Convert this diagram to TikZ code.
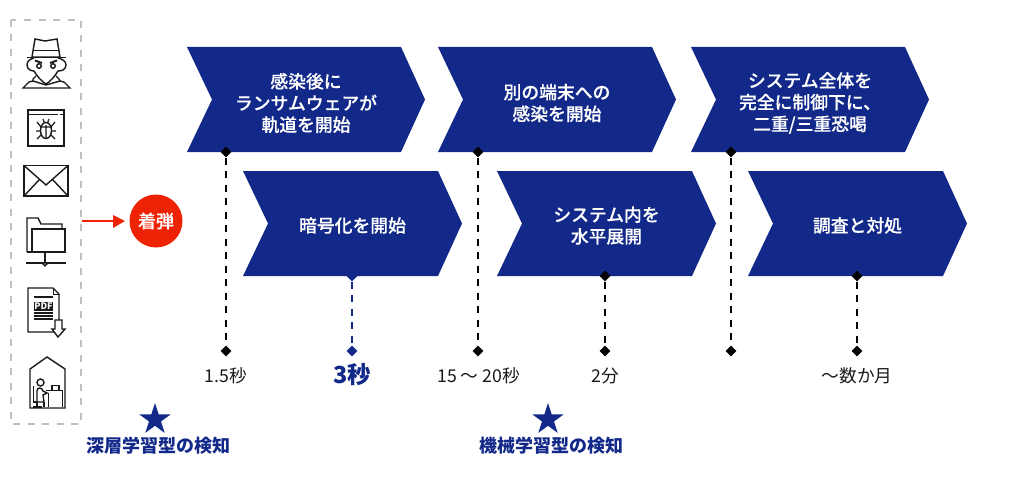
\documentclass[tikz,border=0pt]{standalone}
\usepackage{fontspec}
\setmainfont{Noto Sans CJK JP}
\newfontfamily\medfont[FakeBold=0.2]{Noto Sans CJK JP Medium}
\usetikzlibrary{shapes.geometric}
\definecolor{navy}{HTML}{12298A}
\definecolor{hitred}{HTML}{EE2205}
\definecolor{ink}{HTML}{1A1A1A}
\newcommand{\chev}[6]{%
  \fill[navy] (#2,#4) -- (#3,#4) -- ({#3+24},{(#4+#5)/2}) -- (#3,#5) -- (#2,#5) -- ({#2+25},{(#4+#5)/2}) -- cycle;
  \node[chevtext] (#1) at ({(#2+#3)/2+12},{(#4+#5)/2+(#4<100?3.5:2)}) {#6};}
\tikzset{
  x=1pt,y=-1pt,
  chevtext/.style={text=white,align=center,font=\fontsize{17.8}{21.7}\selectfont\medfont,inner sep=0pt},
  tick/.style={diamond,fill=black,minimum size=11pt,inner sep=0pt},
  tickblue/.style={tick,fill=navy},
  tline/.style={dash pattern=on 7pt off 6.5pt,line width=1.5pt,black},
  tlineblue/.style={tline,navy},
  timelabel/.style={font=\fontsize{17.7}{20}\selectfont,text=ink,inner sep=0pt},
  detlabel/.style={font=\fontsize{18}{20}\selectfont\bfseries,text=navy,inner sep=0pt},
  icon/.style={line width=1.4pt,draw=ink,line join=miter},
  starmark/.style={star,star points=5,star point ratio=2.62,fill=navy,minimum size=33pt,inner sep=0pt},
}
\begin{document}
\begin{tikzpicture}
\useasboundingbox (0,0) rectangle (1024,476);
% dashed frame
\draw[line width=1.6pt,draw=black!25,dash pattern=on 7pt off 7.5pt] (11,20) rectangle (81,424);
% chevrons top
\chev{c1}{187}{401}{47}{152}{感染後に\\ランサムウェアが\\軌道を開始}
\chev{c2}{438}{652}{47}{152}{別の端末への\\感染を開始}
\chev{c3}{691}{905}{47}{152}{システム全体を\\完全に制御下に、\\二重/三重恐喝}
% chevrons bottom
\chev{c4}{243}{438}{171}{276}{暗号化を開始}
\chev{c5}{497}{692}{171}{276}{システム内を\\水平展開}
\chev{c6}{748}{943}{171}{276}{調査と対処}
% timeline
\foreach \n/\x/\y in {a/226/152,b/478/152,c/731/152,e/605/276,f/857/276}{
  \node[tick] (\n t) at (\x,\y) {};
  \node[tick] (\n b) at (\x,351) {};
  \draw[tline] (\n t) -- (\n b);
}
\node[tickblue] (dt) at (352,276) {};
\node[tickblue] (db) at (352,351) {};
\draw[tlineblue] (dt) -- (db);
% labels
\node[timelabel] (l1) at (226,376) {1.5秒};
\node[font=\fontsize{23.5}{25}\selectfont\bfseries,text=navy,inner sep=0pt] (l2) at (352,374.5) {3秒};
\node[timelabel] (l3) at (478.5,376) {15 〜 20秒};
\node[timelabel] (l4) at (605,376) {2分};
\node[timelabel] (l5) at (857,376) {〜数か月};
% hit
\node[circle,fill=hitred,minimum size=53pt,inner sep=0pt,text=white,font=\fontsize{18}{20}\selectfont\medfont] (hit) at (156,221) {着弾};
\coordinate (src) at (82,221);
\draw[hitred,line width=1.4pt] (src) -- (113,221);
\fill[hitred] (113,215) -- (125,221) -- (113,228) -- cycle;
% stars
\node[starmark] (s1) at (155,419.5) {};
\node[starmark] (s2) at (548,419.5) {};
\node[detlabel] (d1) at (158,446) {深層学習型の検知};
\node[detlabel] (d2) at (551,446) {機械学習型の検知};
% spy icon
\draw[icon] (35,39) -- (45,41) -- (57,39) -- (60,57) -- (32,57) -- cycle;
\draw[icon] (33,50.5) -- (59,50.5);
\draw[icon] (27,57.5) -- (66,57.5);
\draw[icon] (34,58) .. controls (30,59) and (27,61) .. (27,65) .. controls (27,70) and (32,71) .. (34,71) .. controls (37,76) and (42,82) .. (46,84) .. controls (50,82) and (55,76) .. (58,71) .. controls (61,71) and (66,70) .. (66,65) .. controls (66,61) and (62,59) .. (58,58);
\draw[icon] (39,66) circle (2.3) (53,66) circle (2.3);
\draw[icon,line width=1.9pt] (35,60.5) -- (42,63) (57,60.5) -- (50,63);
\draw[icon] (36,76) -- (33,79) -- (33,81) -- (29,82) -- (23,88) -- (70,88) -- (64,82) -- (60,81) -- (59,79) -- (56,76);
\draw[icon] (33,81) -- (46,85) -- (60,81);
% bug window
\draw[icon] (28,110) rectangle (64,146);
\draw[icon] (28,114.5) -- (58,114.5) (60,114.5) -- (64,114.5);
\draw[icon] (46,130.5) ellipse (5.5 and 8);
\draw[icon,line width=1.2pt] (46,125) -- (46,138) (40.5,127) -- (51.5,127) (37,122) -- (41,127) (55,122) -- (51,127)
  (36,131) -- (41,131) (56,131) -- (51,131) (37,139) -- (41,135) (55,139) -- (51,135) (43,119) -- (44.5,123) (49,119) -- (47.5,123);
% envelope
\draw[icon,line width=1.6pt] (24,165.5) rectangle (68,196);
\draw[icon] (24,165.5) -- (46,185) -- (68,165.5) (24,196) -- (39,180) (68,196) -- (53,180);
% folder
\draw[icon] (27,252) -- (27,218) -- (38,218) -- (41,224) -- (62,224) -- (62,229);
\draw[icon] (32,252) -- (32,229) -- (65,229) -- (65,252) -- (27,252);
\draw[icon] (45,252) -- (45,262) (26,263) -- (66,263);
\draw[icon,fill=white] (45,264) circle (1.8);
% pdf
\draw[icon] (55,332) -- (28,332) -- (28,288) -- (53,288) -- (59,294) -- (59,320);
\draw[icon,line width=1pt] (53,288) -- (53,294) -- (59,294);
\draw[icon] (34,297) -- (53,297);
\node[fill=ink,text=white,font=\fontsize{9}{9}\selectfont\bfseries,inner xsep=0.8pt,inner ysep=0pt,minimum height=9.5pt] (pdf) at (43.5,306.5) {PDF};
\draw[icon,line width=1.1pt] (34,313) -- (53,313) (34,316) -- (53,316) (34,319) -- (53,319);
\draw[icon,fill=white] (55,320) -- (62,320) -- (62,329) -- (65,329) -- (58,337) -- (52,329) -- (55,329) -- cycle;
% house
\draw[icon] (30,369) -- (47,357) -- (65,369) -- (65,408) -- (30,408) -- cycle;
\draw[icon] (40.5,382.5) circle (3.5);
\draw[icon] (37,402) -- (37,391) .. controls (37,387) and (42,387) .. (43,391) -- (47,393) -- (43,395) -- (44,402) -- (37,402);
\draw[icon,line width=1.2pt] (33.5,386) -- (33.5,402) -- (37,402) (37,402) -- (37,407) (33,407) -- (42,407) (44,402) -- (44,407);
\draw[icon,line width=1.2pt] (46,390.5) -- (63,390.5) (62.5,390.5) -- (62.5,407) (48.5,393) -- (48.5,407) (52,390) -- (52,385.5) -- (59,385.5) -- (59,390);
\end{tikzpicture}
\end{document}
